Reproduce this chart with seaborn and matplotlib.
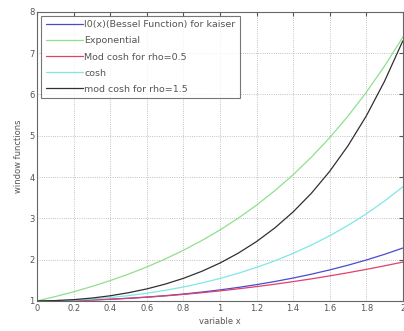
import numpy as np
import pandas as pd
import seaborn as sns
import matplotlib
matplotlib.use('Agg')
import matplotlib.pyplot as plt

# values at x = 0, 0.1, ..., 2
x = [0.0, 0.1, 0.2, 0.3, 0.4, 0.5, 0.6, 0.7, 0.8, 0.9, 1.0,
     1.1, 1.2, 1.3, 1.4, 1.5, 1.6, 1.7, 1.8, 1.9, 2.0]
bessel = [1.000, 1.0025, 1.010, 1.0226, 1.0404, 1.0635, 1.092, 1.1263, 1.1665, 1.213, 1.2661,
          1.3262, 1.3937, 1.4693, 1.5534, 1.6467, 1.750, 1.864, 1.9896, 2.1277, 2.2796]
expo = [1.000, 1.105, 1.221, 1.350, 1.492, 1.649, 1.822, 2.014, 2.226, 2.460, 2.718,
        3.004, 3.320, 3.669, 4.055, 4.482, 4.953, 5.474, 6.050, 6.686, 7.389]
modcosh05 = [1.000, 1.0025, 1.010, 1.0223, 1.0397, 1.0621, 1.0886, 1.1203, 1.1563, 1.1971, 1.2422,
             1.2919, 1.3457, 1.4039, 1.4666, 1.5336, 1.6053, 1.6817, 1.7627, 1.8488, 1.9396]
cosh = [1.000, 1.005, 1.020, 1.045, 1.081, 1.128, 1.185, 1.255, 1.337, 1.433, 1.543,
        1.669, 1.811, 1.971, 2.151, 2.352, 2.577, 2.828, 3.107, 3.418, 3.762]
modcosh15 = [1.000, 1.0075, 1.0302, 1.0683, 1.1239, 1.198, 1.290, 1.406, 1.546, 1.7154, 1.9167,
             2.1562, 2.4371, 2.7671, 3.1547, 3.607, 4.1369, 4.7558, 5.4767, 6.3192, 7.2968]

labels = ['I0(x)(Bessel Function) for kaiser', 'Exponential', 'Mod cosh for rho=0.5',
          'cosh', 'mod cosh for rho=1.5']
series = [bessel, expo, modcosh05, cosh, modcosh15]
colors = ['#4a4ad0', '#8ee08e', '#e0406a', '#80e6e6', '#303030']

xticks = [0, 0.2, 0.4, 0.6, 0.8, 1, 1.2, 1.4, 1.6, 1.8, 2]
xtick_labels = ['0', '0.2', '0.4', '0.6', '0.8', '1', '1.2', '1.4', '1.6', '1.8', '2']
yticks = [1, 2, 3, 4, 5, 6, 7, 8]

sns.set_style('white')
plt.rcParams['font.family'] = ['DejaVu Sans']

fig = plt.figure(figsize=(4.04, 3.31), dpi=100)
ax = fig.add_axes([0.092, 0.091, 0.905, 0.873])

for lab, vals, c in zip(labels, series, colors):
    df = pd.DataFrame({'x': x, 'y': vals})
    sns.lineplot(data=df, x='x', y='y', ax=ax, color=c, linewidth=0.9, label=lab)

ax.set_xlim(0, 2)
ax.set_ylim(1, 8)
ax.set_xticks(xticks)
ax.set_xticklabels(xtick_labels)
ax.set_yticks(yticks)
ax.tick_params(direction='in', length=3, labelsize=6, colors='#555555', pad=2,
               top=True, right=True)
ax.grid(True, linestyle=':', color='#b0b0b0', linewidth=0.6)
for s in ax.spines.values():
    s.set_color('#666666')
    s.set_linewidth(0.8)

ax.set_xlabel('variable x', fontsize=6, color='#555555', labelpad=3)
ax.set_ylabel('window functions', fontsize=6, color='#555555', labelpad=4)

leg = ax.legend(loc='upper left', fontsize=6.8, handlelength=3.9, frameon=True,
                fancybox=False, borderaxespad=0.45, labelspacing=0.75,
                handletextpad=0.2, borderpad=0.45)
leg.get_frame().set_edgecolor('#555555')
leg.get_frame().set_linewidth(0.8)
for t in leg.get_texts():
    t.set_color('#555555')

fig.savefig('out.png', dpi=100)
